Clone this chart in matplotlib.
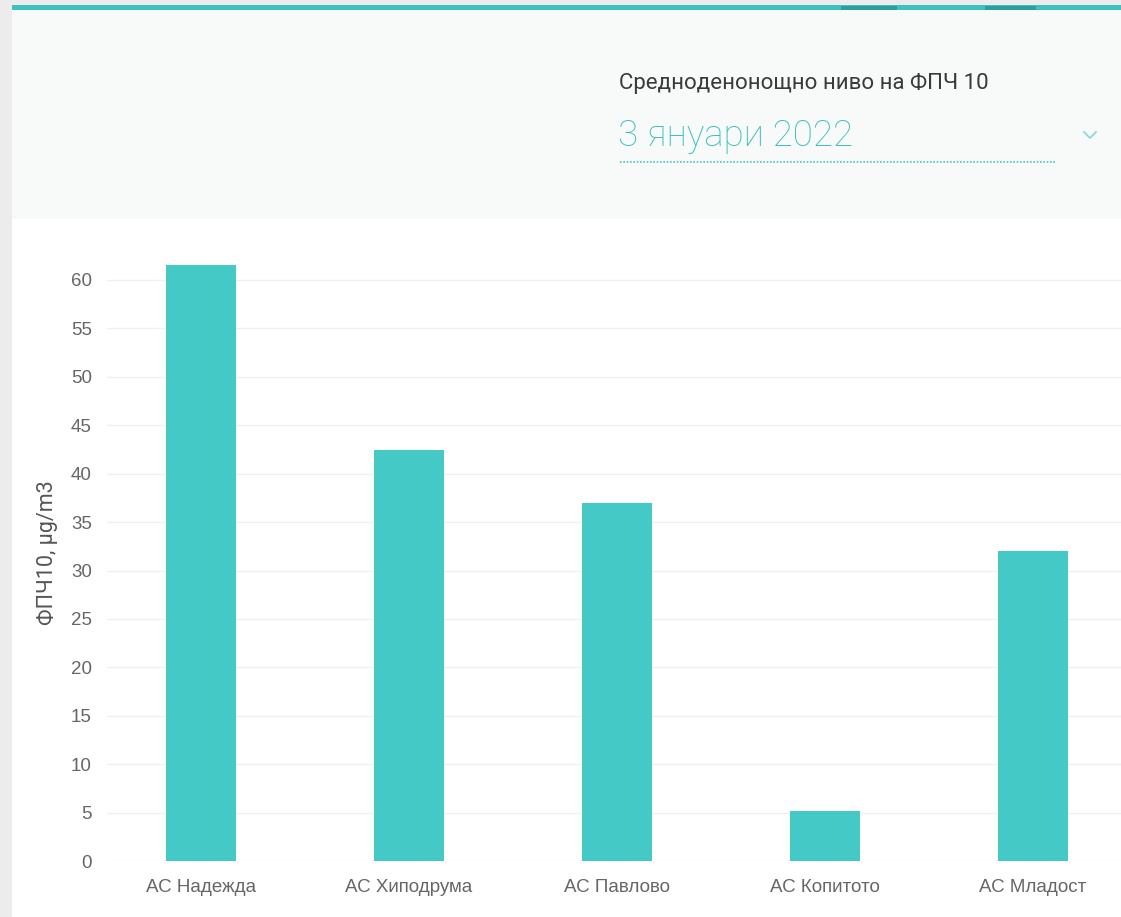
import matplotlib
matplotlib.use("Agg")
import matplotlib.pyplot as plt
from matplotlib.patches import Rectangle
from matplotlib.lines import Line2D

stations = ["АС Надежда", "АС Хиподрума", "АС Павлово", "АС Копитото", "АС Младост"]
pm10 = [61.5, 42.4, 37.0, 5.2, 32.0]
yticks = list(range(0, 61, 5))

title = "Средноденонощно ниво на ФПЧ 10"
date_label = "3 януари 2022"
ylabel = "ФПЧ10, µg/m3"

TEAL = "#45c9c6"
W, H = 1121, 917

fig = plt.figure(figsize=(W / 100, H / 100), dpi=100)
fig.patch.set_facecolor("white")


def fx(x):
    return x / W


def fy(y):
    return 1 - y / H


def box(x0, y0, x1, y1, color):
    fig.add_artist(Rectangle((fx(x0), fy(y1)), fx(x1) - fx(x0), fy(y0) - fy(y1),
                             transform=fig.transFigure, facecolor=color,
                             edgecolor="none", zorder=0))


# page chrome
box(0, 0, W, 6, "#ececec")
box(0, 0, 12, H, "#ececec")
box(12, 10, W, 219, "#f8f9f9")
box(12, 5, W, 10, "#3fc1bf")
for a, b in [(841, 897), (985, 1036)]:
    box(a, 6, b, 10, "#2b9f9c")

# header texts
fig.text(fx(619), fy(83), title, fontsize=16, family="Roboto", color="#3a3a3a",
         va="center", ha="left")
fig.text(fx(618), fy(136), date_label, fontsize=26.5, family="Roboto",
         fontweight="light", color="#3cc0bd", va="center", ha="left")
fig.add_artist(Line2D([fx(620), fx(1055)], [fy(162), fy(162)], transform=fig.transFigure,
                      color=TEAL, lw=1.2, ls=(0, (1, 1))))
fig.add_artist(Line2D([fx(1084), fx(1090), fx(1096)], [fy(132), fy(138), fy(132)],
                      transform=fig.transFigure, color="#8fd9d6", lw=1.3))

# chart
left, right, bottom, top = 107, W, 861, 256
ax = fig.add_axes([fx(left), fy(bottom), fx(right) - fx(left), fy(top) - fy(bottom)])
ax.set_facecolor("none")
x = list(range(len(stations)))
ax.bar(x, pm10, width=0.337, color=TEAL, zorder=2)

px_per_cat = 208
x0 = 201
ax.set_xlim(-(x0 - left) / px_per_cat, (right - x0) / px_per_cat)
ax.set_ylim(0, (bottom - top) / (581 / 60))
ax.set_yticks(yticks)
ax.set_xticks(x)
ax.set_xticklabels(stations)
ax.grid(axis="y", color="#f0f0f0", lw=1, zorder=0)
for s in ax.spines.values():
    s.set_visible(False)
ax.tick_params(axis="both", length=0, labelcolor="#666666", labelsize=13.5)
ax.tick_params(axis="y", pad=11)
ax.tick_params(axis="x", pad=13)
for lab in ax.get_xticklabels() + ax.get_yticklabels():
    lab.set_family("Liberation Sans")

fig.text(fx(47), fy(553), ylabel, rotation=90, fontsize=15.5, family="Roboto",
         color="#555555", va="center", ha="center")

fig.savefig("out.png", dpi=100)
